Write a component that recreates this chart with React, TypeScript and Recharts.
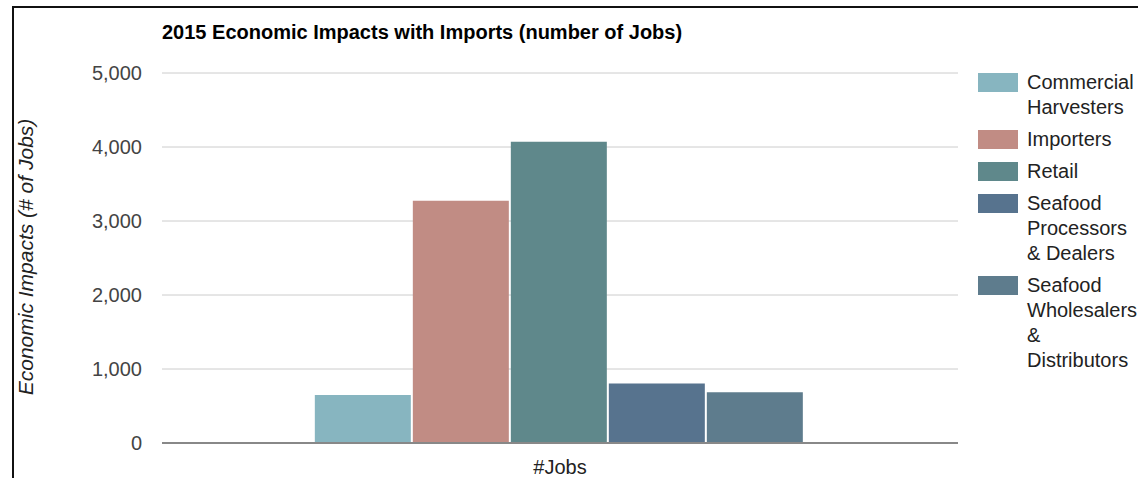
import React from "react";
import { BarChart, Bar, XAxis, YAxis, CartesianGrid } from "recharts";

const categories = ["#Jobs"];
const seriesNames = [
  "Commercial Harvesters",
  "Importers",
  "Retail",
  "Seafood Processors & Dealers",
  "Seafood Wholesalers & Distributors",
];
const seriesValues = [650, 3275, 4070, 805, 685];
const seriesColors = ["#87b5c0", "#c18c84", "#5f888b", "#57738e", "#5e7c8d"];
const legendLines = [
  ["Commercial", "Harvesters"],
  ["Importers"],
  ["Retail"],
  ["Seafood", "Processors", "& Dealers"],
  ["Seafood", "Wholesalers", "&", "Distributors"],
];
const yTicks = [0, 1000, 2000, 3000, 4000, 5000];

const data = categories.map((c) => {
  const row: Record<string, string | number> = { name: c };
  seriesNames.forEach((s, i) => {
    row[s] = seriesValues[i];
  });
  return row;
});

const FONT = "Arial, 'Liberation Sans', sans-serif";

const LegendBlock = () => (
  <div
    style={{
      position: "absolute",
      left: 978,
      top: 70,
      width: 160,
      fontFamily: FONT,
      fontSize: 20,
      color: "#222",
    }}
  >
    {seriesNames.map((s, i) => (
      <div key={s} style={{ display: "flex", alignItems: "flex-start", marginBottom: 7 }}>
        <div
          style={{
            width: 40,
            height: 19,
            background: seriesColors[i],
            marginTop: 3,
            marginRight: 9,
            flex: "none",
          }}
        />
        <div style={{ lineHeight: "25px", whiteSpace: "nowrap" }}>
          {legendLines[i].map((l, j) => (
            <div key={j}>{l}</div>
          ))}
        </div>
      </div>
    ))}
  </div>
);

export default function App() {
  return (
    <div
      style={{
        position: "fixed",
        left: 0,
        top: 0,
        width: 1138,
        height: 478,
        overflow: "hidden",
        background: "#fff",
      }}
    >
      <div style={{ position: "absolute", left: 0, top: 0 }}>
        <BarChart
          width={1138}
          height={478}
          data={data}
          margin={{ top: 73, right: 180, left: 0, bottom: 0 }}
          barCategoryGap="19.2%"
          barGap={2}
        >
          <text
            x={162}
            y={39}
            style={{ fontFamily: FONT, fontSize: 20, fontWeight: "bold" }}
            fill="#000"
          >
            2015 Economic Impacts with Imports (number of Jobs)
          </text>
          <text
            x={0}
            y={0}
            transform="translate(33,257) rotate(-90)"
            textAnchor="middle"
            style={{ fontFamily: FONT, fontSize: 21, fontStyle: "italic" }}
            fill="#222"
          >
            Economic Impacts (# of Jobs)
          </text>
          <CartesianGrid vertical={false} stroke="#cccccc" />
          <XAxis
            dataKey="name"
            height={35}
            tickLine={false}
            axisLine={{ stroke: "#888", strokeWidth: 2 }}
            tick={{ fill: "#222", fontSize: 20, fontFamily: FONT }}
            tickMargin={11}
          />
          <YAxis
            width={162}
            domain={[0, 5000]}
            ticks={yTicks}
            interval={0}
            tickLine={false}
            axisLine={false}
            tickSize={0}
            tickMargin={20}
            tickFormatter={(v: number) => v.toLocaleString("en-US")}
            tick={{ fill: "#444", fontSize: 20, fontFamily: FONT }}
          />
          {seriesNames.map((s, i) => (
            <Bar key={s} dataKey={s} fill={seriesColors[i]} isAnimationActive={false} />
          ))}
        </BarChart>
      </div>
      <LegendBlock />
      <div style={{ position: "absolute", left: 12, top: 6, width: 1126, height: 2, background: "#111" }} />
      <div style={{ position: "absolute", left: 12, top: 6, width: 2, height: 472, background: "#111" }} />
    </div>
  );
}
